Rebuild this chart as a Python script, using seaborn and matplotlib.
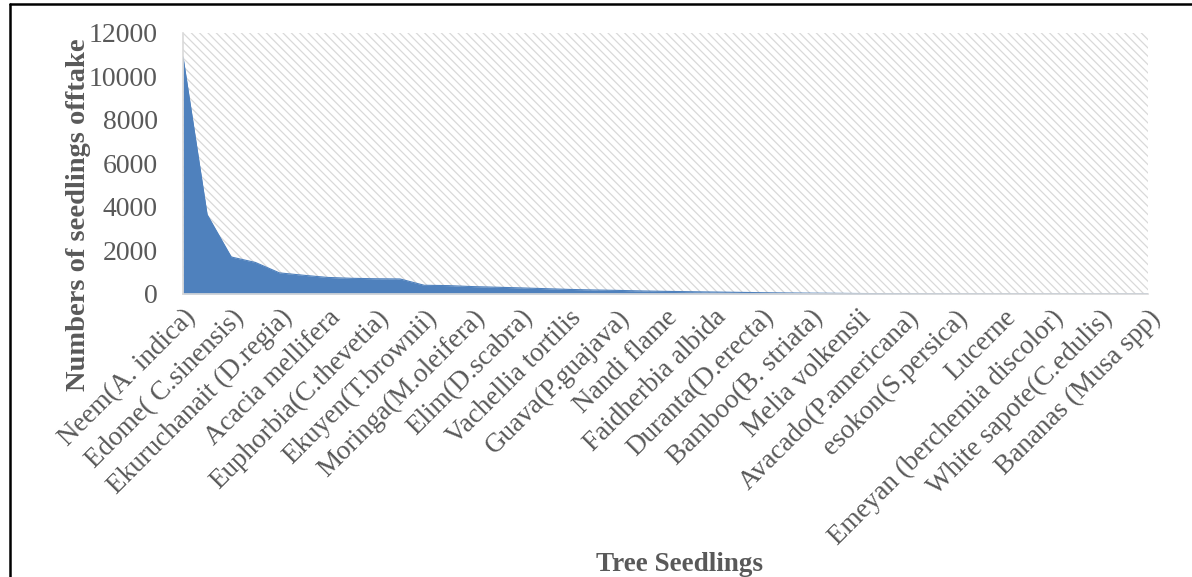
import matplotlib
matplotlib.use("Agg")
import matplotlib.pyplot as plt
from matplotlib.patches import Rectangle
from matplotlib.lines import Line2D
import numpy as np
import pandas as pd
import seaborn as sns

# Seedling offtake per tree species, ordered from highest to lowest
offtake = [10900, 3650, 1700, 1450, 970, 860, 760, 720, 700, 690,
           400, 385, 340, 310, 280, 245, 210, 185, 165, 140,
           120, 105, 90, 75, 60, 48, 38, 30, 22, 16,
           12, 9, 7, 5, 4, 3, 3, 2, 2, 1, 1]

# Names shown on the category axis (every second species is labelled)
tick_labels = ["Neem(A. indica)", "Edome( C.sinensis)", "Ekuruchanait (D.regia)",
               "Acacia mellifera", "Euphorbia(C.thevetia)", "Ekuyen(T.brownii)",
               "Moringa(M.oleifera)", "Elim(D.scabra)", "Vachellia tortilis",
               "Guava(P.guajava)", "Nandi flame", "Faidherbia albida",
               "Duranta(D.erecta)", "Bamboo(B. striata)", "Melia volkensii",
               "Avacado(P.americana)", "esokon(S.persica)", "Lucerne",
               "Emeyan (berchemia discolor)", "White sapote(C.edulis)",
               "Bananas (Musa spp)"]

y_ticks = [0, 2000, 4000, 6000, 8000, 10000, 12000]

df = pd.DataFrame({"pos": np.arange(len(offtake)), "offtake": offtake})

sns.set_theme(style="white")
plt.rcParams["font.family"] = ["Liberation Serif", "DejaVu Serif"]
plt.rcParams["hatch.linewidth"] = 0.9

fig = plt.figure(figsize=(11.92, 5.77), dpi=100)
ax = fig.add_axes([0.1535, 0.4905, 0.8095, 0.4525])

fill_color = "#4f81bd"
grey_text = "#595959"

# hatched plot-area background
ax.add_patch(Rectangle((0, 0), 1, 1, transform=ax.transAxes, facecolor="white",
                       edgecolor="#d9d9d9", hatch="\\\\\\\\", lw=0, zorder=0))

sns.lineplot(data=df, x="pos", y="offtake", color=fill_color, lw=0.8, ax=ax, zorder=2)
ax.fill_between(df["pos"], 0, df["offtake"], color=fill_color, lw=0, zorder=2)

ax.set_xlim(0, len(offtake) - 1)
ax.set_ylim(0, 12000)
ax.set_yticks(y_ticks)
ax.set_yticklabels([str(v) for v in y_ticks], fontsize=20, color=grey_text)
ax.set_xticks(np.arange(0, len(offtake), 2))
ax.set_xticklabels(tick_labels, rotation=45, ha="right", va="top",
                   rotation_mode="anchor", fontsize=19.5, color=grey_text)
ax.tick_params(axis="both", length=0)
ax.tick_params(axis="x", pad=8)
ax.tick_params(axis="y", pad=18)
ax.set_xlabel("")
ax.set_ylabel("")

for side in ["top", "right"]:
    ax.spines[side].set_visible(False)
for side in ["left", "bottom"]:
    ax.spines[side].set_color("#d9d9d9")
    ax.spines[side].set_linewidth(1.2)
    ax.spines[side].set_zorder(3)

fig.text(0.066, 0.628, "Numbers of seedlings offtake", rotation=90, ha="center",
         va="center", fontsize=20.5, fontweight="bold", color=grey_text)
fig.text(0.57, 0.022, "Tree Seedlings", ha="center", va="center",
         fontsize=19.5, fontweight="bold", color=grey_text)

# outer frame (top and left edges)
fig.add_artist(Line2D([10 / 1192, 10 / 1192], [0, 1 - 4 / 577], transform=fig.transFigure,
                      color="black", lw=1.8))
fig.add_artist(Line2D([10 / 1192, 1], [1 - 4 / 577, 1 - 4 / 577], transform=fig.transFigure,
                      color="black", lw=1.8))

fig.savefig("out.png", dpi=100, facecolor="white")
